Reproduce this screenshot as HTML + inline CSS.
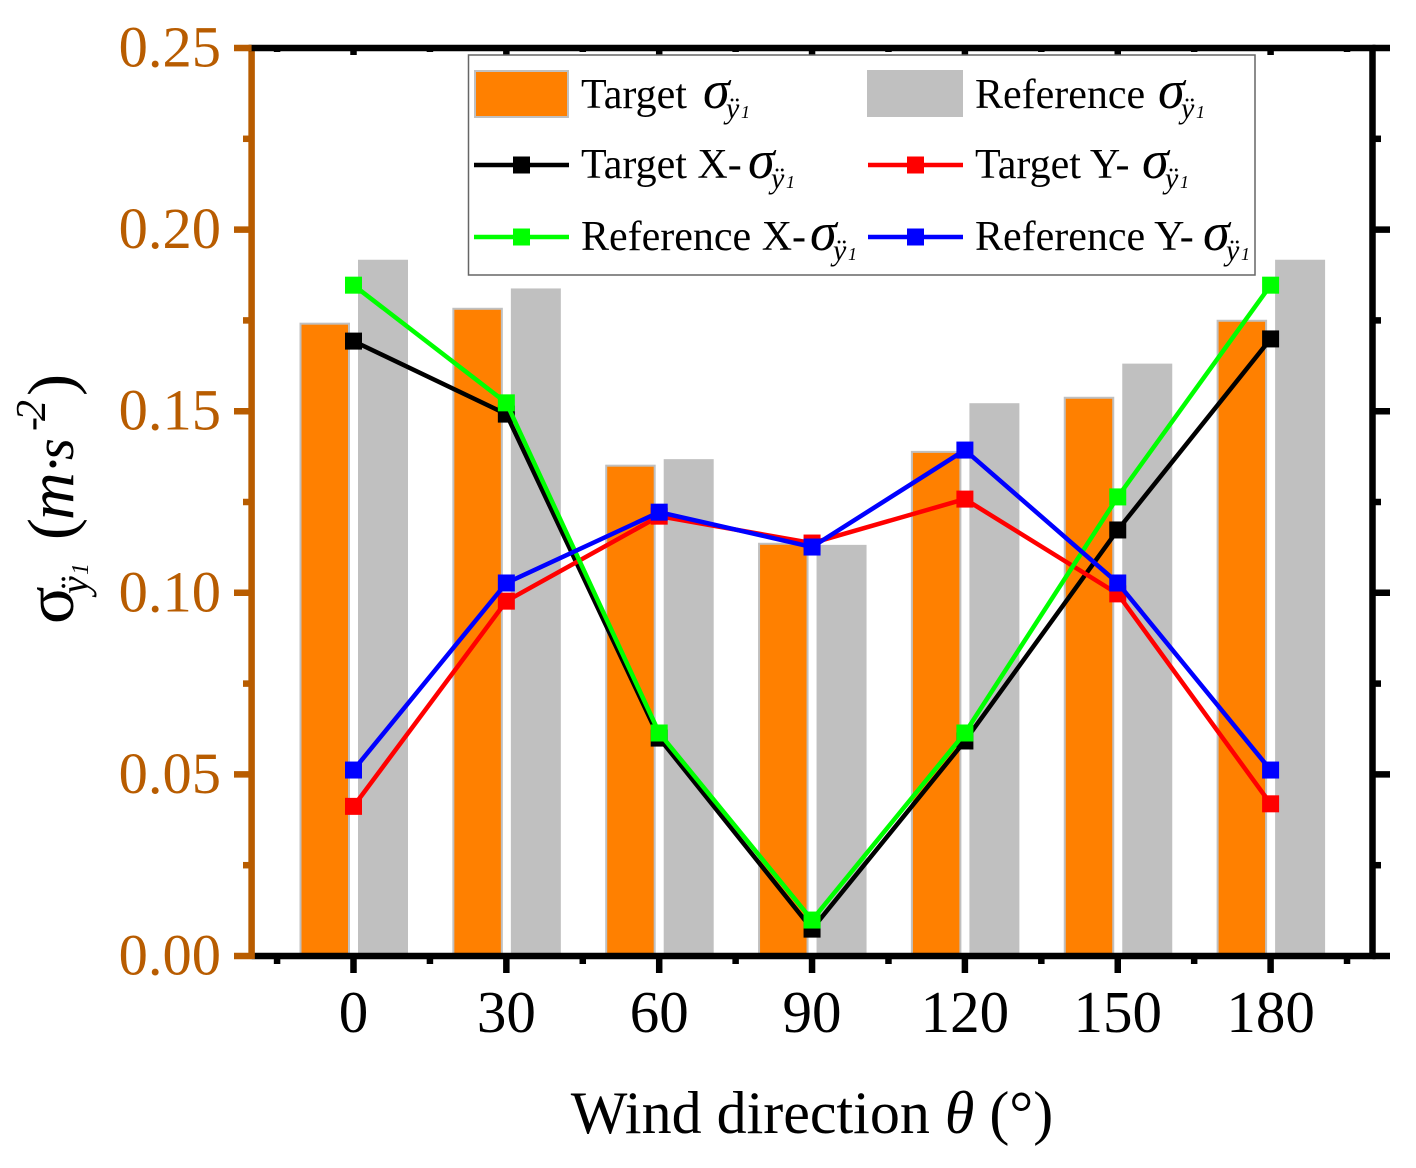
<!DOCTYPE html>
<html lang="en">
<head>
<meta charset="utf-8">
<title>Wind direction chart</title>
<style>
  html,body{margin:0;padding:0;background:#fff;}
  svg{display:block;font-family:"Liberation Serif",serif;}
  .lg{font-size:42px;fill:#000;}
  .sg{font-size:54px;font-style:italic;}
  .sy{font-size:30px;font-style:italic;}
  .s1{font-size:18px;font-style:italic;}
</style>
</head>
<body>
<svg id="chart" xmlns="http://www.w3.org/2000/svg" width="1416" height="1168" viewBox="0 0 1416 1168">
  <rect width="1416" height="1168" fill="#fff"/>
  <g id="bars"></g>
  <g id="axes"></g>
  <g id="series"></g>
  <g>
    <rect x="468.5" y="55" width="786.5" height="220" fill="#fff" stroke="#666" stroke-width="1.5"/>

    <g>
      <rect x="475" y="71" width="93" height="46" fill="#ff8000" stroke="#c0c0c0" stroke-width="2"/>
      <text class="lg" x="581" y="108">Target</text>
      <text class="sg" x="703" y="108">σ</text><text class="sy" x="726" y="118">ÿ</text><text class="s1" x="741" y="118">1</text>
    </g>
    <g>
      <rect x="867" y="70" width="96" height="47" fill="#c0c0c0"/>
      <text class="lg" x="975" y="108">Reference</text>
      <text class="sg" x="1158" y="108">σ</text><text class="sy" x="1181" y="118">ÿ</text><text class="s1" x="1196" y="118">1</text>
    </g>
    <g>
      <line x1="474" x2="569" y1="165" y2="165" stroke="#000" stroke-width="4.5"/>
      <rect x="513" y="156.5" width="17" height="17" fill="#000"/>
      <text class="lg" x="581" y="178">Target X-</text>
      <text class="sg" x="748" y="178">σ</text><text class="sy" x="771" y="188">ÿ</text><text class="s1" x="786" y="188">1</text>
    </g>
    <g>
      <line x1="868" x2="963" y1="165" y2="165" stroke="#ff0000" stroke-width="4.5"/>
      <rect x="907" y="156.5" width="17" height="17" fill="#ff0000"/>
      <text class="lg" x="975" y="178">Target Y-</text>
      <text class="sg" x="1142" y="178">σ</text><text class="sy" x="1165" y="188">ÿ</text><text class="s1" x="1180" y="188">1</text>
    </g>
    <g>
      <line x1="474" x2="569" y1="237" y2="237" stroke="#00ff00" stroke-width="4.5"/>
      <rect x="513" y="228.5" width="17" height="17" fill="#00ff00"/>
      <text class="lg" x="581" y="250">Reference X-</text>
      <text class="sg" x="810" y="250">σ</text><text class="sy" x="833" y="260">ÿ</text><text class="s1" x="848" y="260">1</text>
    </g>
    <g>
      <line x1="868" x2="963" y1="237" y2="237" stroke="#0000ff" stroke-width="4.5"/>
      <rect x="907" y="228.5" width="17" height="17" fill="#0000ff"/>
      <text class="lg" x="975" y="250">Reference Y-</text>
      <text class="sg" x="1203" y="250">σ</text><text class="sy" x="1226" y="260">ÿ</text><text class="s1" x="1241" y="260">1</text>
    </g>
  </g>

  <text x="812" y="1133" text-anchor="middle" font-size="60" fill="#000">Wind direction <tspan font-style="italic">θ</tspan> (°)</text>

  <g transform="translate(73,622) rotate(-90)" fill="#000">
    <text x="-2" y="0" font-size="70">σ</text>
    <text x="28" y="15" font-size="40" font-style="italic">ÿ</text>
    <text x="47" y="15" font-size="24" font-style="italic">1</text>
    <text x="82" y="0" font-size="66">(</text>
    <text x="102" y="0" font-size="66" font-style="italic">m</text>
    <text x="148" y="0" font-size="60">·</text>
    <text x="162" y="0" font-size="56" font-style="italic">s</text>
    <text x="191" y="-28" font-size="42">-</text>
    <text x="201" y="-28" font-size="42" font-style="italic">2</text>
    <text x="226" y="0" font-size="66">)</text>
  </g>
</svg>
<script>
const categories = [0, 30, 60, 90, 120, 150, 180];
const targetBar = [0.1741, 0.1782, 0.135, 0.1135, 0.1388, 0.1537, 0.1749];
const referenceBar = [0.1917, 0.1838, 0.1368, 0.1132, 0.1522, 0.1631, 0.1917];
const targetX = [0.1693, 0.1492, 0.060, 0.0074, 0.0592, 0.1173, 0.1699];
const targetY = [0.0412, 0.0977, 0.1211, 0.1137, 0.1258, 0.0997, 0.0419];
const referenceX = [0.1847, 0.1523, 0.0614, 0.0099, 0.0614, 0.1264, 0.1847];
const referenceY = [0.0512, 0.1027, 0.1222, 0.1126, 0.1393, 0.1027, 0.0512];
const yTickValues = [0, 0.05, 0.10, 0.15, 0.20, 0.25];
const yTickLabels = ['0.00', '0.05', '0.10', '0.15', '0.20', '0.25'];
const yMinorValues = [0.025, 0.075, 0.125, 0.175, 0.225];
const xMinorValues = [-15, 15, 45, 75, 105, 135, 165, 195];

const NS = 'http://www.w3.org/2000/svg';
const sx = v => 353.5 + (v / 200) * 1019;
const sy = v => 956 - (v / 0.25) * 908;
const AXIS_BROWN = '#b85c00';

function mk(parent, tag, attrs, text) {
  const el = document.createElementNS(NS, tag);
  for (const k in attrs) el.setAttribute(k, attrs[k]);
  if (text !== undefined) el.textContent = text;
  parent.appendChild(el);
  return el;
}

const barsG = document.getElementById('bars');
categories.forEach((c, i) => {
  const a = mk(barsG, 'rect', {x: sx(c) - 53, y: sy(targetBar[i]), width: 48.5, height: sy(0) - sy(targetBar[i]), fill: '#ff8000', stroke: '#c0c0c0', 'stroke-width': 2});
  
  
  const b = mk(barsG, 'rect', {x: sx(c) + 4.5, y: sy(referenceBar[i]), width: 50, height: sy(0) - sy(referenceBar[i]), fill: '#c0c0c0'});
  
  
});

const axesG = document.getElementById('axes');
const L = sx(-20), R = sx(200), T = sy(0.25), B = sy(0);
function seg(name, x1, y1, x2, y2, color) {
  const l = mk(axesG, 'line', {x1, y1, x2, y2, stroke: color, 'stroke-width': 6.5});
  
  
}
seg('x-axis-bottom', L, B, R + 3, B, '#000');
seg('y-axis-right', R, T - 3, R, B + 3, '#000');
seg('y-axis-left', L, T - 3, L, B + 3, AXIS_BROWN);
seg('x-axis-top', L - 3, T, R + 3, T, '#000');

categories.forEach(c => {
  seg('x-major-tick-' + c, sx(c), B, sx(c), 973, '#000');
  seg('x-top-tick-' + c, sx(c), T, sx(c), 55, '#000');
  const t = mk(axesG, 'text', {x: sx(c), y: 1032, 'text-anchor': 'middle', 'font-size': 59, fill: '#000'}, String(c));
  
  
});
xMinorValues.forEach(v => {
  seg('x-minor-tick-' + v, sx(v), B, sx(v), 964, '#000');
  seg('x-top-minor-tick-' + v, sx(v), T, sx(v), 52, '#000');
});
yTickValues.forEach((v, i) => {
  seg('y-major-tick-' + yTickLabels[i], L, sy(v), 234, sy(v), AXIS_BROWN);
  seg('y-right-tick-' + yTickLabels[i], R, sy(v), 1390, sy(v), '#000');
  const t = mk(axesG, 'text', {x: 221, y: sy(v) + 18.5, 'text-anchor': 'end', 'font-size': 58.5, fill: AXIS_BROWN}, yTickLabels[i]);
  
  
});
yMinorValues.forEach(v => {
  seg('y-minor-tick-' + v, L, sy(v), 243, sy(v), AXIS_BROWN);
  seg('y-right-minor-tick-' + v, R, sy(v), 1381, sy(v), '#000');
});

const seriesG = document.getElementById('series');
function drawSeries(name, values, color) {
  const g = mk(seriesG, 'g', {});
  
  
  const pts = values.map((v, i) => sx(categories[i]) + ',' + sy(v)).join(' ');
  mk(g, 'polyline', {points: pts, fill: 'none', stroke: color, 'stroke-width': 4.5, 'stroke-linejoin': 'round'});
  values.forEach((v, i) => {
    const p = mk(g, 'rect', {x: sx(categories[i]) - 8.5, y: sy(v) - 8.5, width: 17, height: 17, fill: color});
    
    
  });
}
drawSeries('target-x-line', targetX, '#000000');
drawSeries('target-y-line', targetY, '#ff0000');
drawSeries('reference-x-line', referenceX, '#00ff00');
drawSeries('reference-y-line', referenceY, '#0000ff');
</script>
</body>
</html>
